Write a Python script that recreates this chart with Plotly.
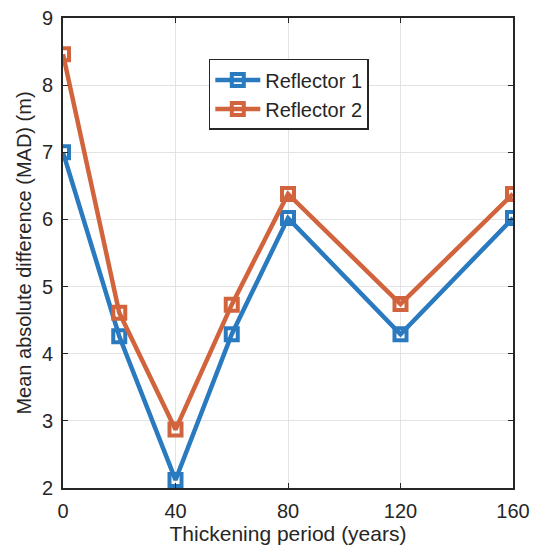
import plotly.graph_objects as go

period = [0, 20, 40, 60, 80, 120, 160]
reflector1 = [7.00, 4.26, 2.12, 4.29, 6.02, 4.29, 6.02]
reflector2 = [8.46, 4.61, 2.87, 4.73, 6.38, 4.74, 6.38]
x_ticks = [0, 40, 80, 120, 160]
y_ticks = [2, 3, 4, 5, 6, 7, 8, 9]

blue = "#2A7ABF"
orange = "#D2643D"
font = "Liberation Sans, Arial, sans-serif"
ink = "#262626"

fig = go.Figure()
for name, vals, col in [("Reflector 1", reflector1, blue), ("Reflector 2", reflector2, orange)]:
    fig.add_trace(go.Scatter(
        x=period, y=vals, name=name, mode="lines+markers",
        line=dict(color=col, width=4.5),
        marker=dict(symbol="square-open", size=12, color=col, line=dict(color=col, width=4)),
    ))

axis_common = dict(
    showline=True, linecolor=ink, linewidth=1.8, mirror="ticks",
    ticks="inside", ticklen=5, tickcolor=ink, tickwidth=1,
    showgrid=True, gridcolor="#E3E3E3", gridwidth=1, zeroline=False,
    tickfont=dict(family=font, size=20, color=ink), automargin=False,
    ticklabeloverflow="allow",
)

fig.update_xaxes(range=[0, 160], tickvals=x_ticks, **axis_common, ticklabelstandoff=4,
                 title=dict(text="Thickening period (years)", font=dict(family=font, size=21, color=ink), standoff=4))
fig.update_yaxes(range=[2, 9], tickvals=y_ticks, **axis_common, ticklabelstandoff=4,
                 title=dict(text="Mean absolute difference (MAD) (m)", font=dict(family=font, size=20, color=ink), standoff=5))

# page body has an 8px margin, so the figure is sized/offset to compensate
fig.update_layout(
    width=530, height=540,
    margin=dict(l=55, r=25, t=10, b=60),
    plot_bgcolor="white", paper_bgcolor="white",
    legend=dict(x=0.324, y=0.913, xanchor="left", yanchor="top",
                bgcolor="white", bordercolor=ink, borderwidth=1.5,
                font=dict(family=font, size=20, color=ink),
                tracegroupgap=0, itemwidth=45),
    showlegend=True,
)

fig.write_html("out.html")
